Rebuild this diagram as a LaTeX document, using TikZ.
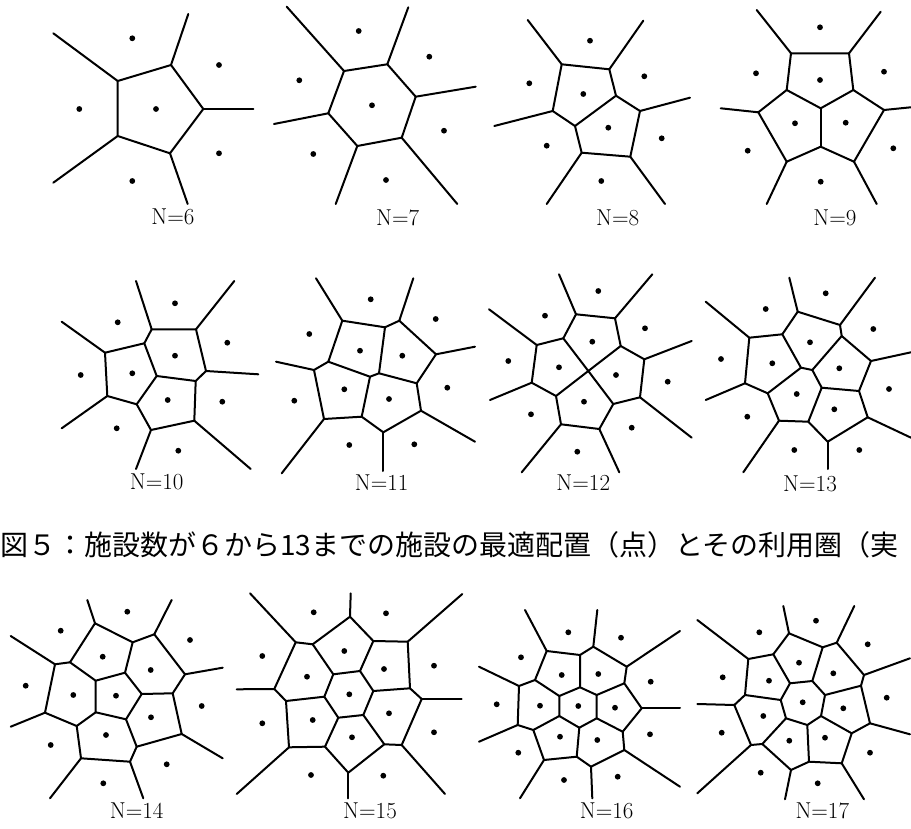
\documentclass[tikz,border=0pt]{standalone}
\usepackage{fontspec}
\newfontfamily\cjk{Noto Sans CJK JP}
\tikzset{
  vline/.style={line width=2pt, line join=round, line cap=round},
  lab/.style={font=\fontsize{23}{23}\selectfont, inner sep=0pt},
}
\newcommand{\pts}[1]{\foreach \n/\x/\y in {#1}{\coordinate (\n) at (\x,\y);}}
\newcommand{\sites}[1]{\foreach \x/\y in {#1}{\fill (\x,\y) circle (2.9);}}
\newcommand{\rays}[1]{\foreach \n/\x/\y in {#1}{\draw[vline] (\n) -- (\x,\y);}}
\begin{document}
\begin{tikzpicture}[x=1pt,y=-1pt]
\useasboundingbox (0,0) rectangle (911,829);
% ---------- N=6
\pts{A/117.7/81, B/171/65, C/203.3/109, D/170/153.3, E/117.7/136}
\draw[vline] (A)--(B)--(C)--(D)--(E)--cycle;
\rays{A/53.3/33.3, B/188.3/14, C/253.3/109, D/187.7/204, E/53.3/182.7}
\sites{132.3/38.3, 219/65, 79.3/109, 156/109, 219/153.3, 132.3/181}
\node[lab] (l6) at (173,217) {N=6};
% ---------- N=7
\pts{A/344/71, B/387.3/64.3, C/415.7/96.7, D/401.7/137.7, E/357.3/146, F/328.3/113.3}
\draw[vline] (A)--(B)--(C)--(D)--(E)--(F)--cycle;
\rays{A/286.7/6.7, B/408.3/7.3, C/475.7/86.7, D/457.3/204, E/335.7/204, F/274/124}
\sites{358.7/31, 429.3/56.7, 299.3/80.3, 372/105.3, 444/130.7, 313.3/154, 386/180}
\node[lab] (l7) at (397.7,218) {N=7};
% ---------- N=8
\pts{P1/561.7/64.3, P2/609.3/69.3, P3/616/95.7, P4/640/111, P5/630.3/156.7, P6/581.7/152.7, P7/575/126, P8/552.7/111}
\draw[vline] (P1)--(P2)--(P3)--(P7)--(P8)--cycle;
\draw[vline] (P3)--(P4)--(P5)--(P6)--(P7);
\rays{P1/527.7/20, P2/643.3/20.7, P4/690/97.7, P5/665/204, P6/546.7/204, P8/494.3/126}
\sites{590/40.7, 644.3/76.3, 529.3/83.3, 583.3/94, 608.3/127.7, 661.7/138.3, 546.7/145.7, 601.3/181}
\node[lab] (l8) at (617.7,218) {N=8};
% ---------- N=9
\pts{Q1/791/53.3, Q2/849/53.3, Q3/853.3/90, Q4/820.7/108.3, Q5/786.7/90, Q6/758.3/112.3, Q7/786.7/161.7, Q8/820.7/146.7, Q9/854/161.7, Q10/884/110}
\draw[vline] (Q1)--(Q2)--(Q3)--(Q4)--(Q5)--cycle;
\draw[vline] (Q5)--(Q6)--(Q7)--(Q8)--(Q9)--(Q10)--(Q3);
\draw[vline] (Q4)--(Q8);
\rays{Q1/756.7/10, Q2/880.7/11.7, Q10/910.7/107.3, Q9/876.7/204, Q7/766.7/204, Q6/720.7/108.3}
\sites{820/27.3, 884/71.7, 756/73.3, 820/80, 795/123.3, 845.7/122.7, 747.7/150.7, 893.3/148.3, 820.7/181.7}
\node[lab] (l9) at (835,218) {N=9};
% ---------- N=10
\pts{R1/151.7/329.3, R2/196/329.3, R3/206/371, R4/195.7/381, R5/156.7/376, R6/144.3/343.3, R7/105/352.7, R8/107.3/396, R9/136.7/404.3, R10/151/430, R11/194.3/420.7}
\draw[vline] (R1)--(R2)--(R3)--(R4)--(R5)--(R6)--cycle;
\draw[vline] (R6)--(R7)--(R8)--(R9)--(R5);
\draw[vline] (R4)--(R11)--(R10)--(R9);
\rays{R1/136/281, R2/234.3/281, R3/258.3/374.3, R11/250.7/469, R10/136/469, R8/61.7/428.3, R7/61.7/321.7}
\sites{175/303.3, 117.7/322.3, 227.3/342.7, 175/355.7, 132.3/373.3, 80.7/375, 167.7/400, 222.3/401.7, 116.7/428.3, 178.3/450.7}
\node[lab] (l10) at (156.7,482) {N=10};
% ---------- N=11
\pts{S1/342.3/320.7, S2/385/327.3, S3/399.3/320.7, S4/436/354.3, S5/416.7/383.3, S6/379/373.3, S7/370/376.7, S8/328.3/361.7, S9/314/370, S10/324/419, S11/361.7/416.7, S12/383.3/432.3, S13/421/410.7}
\draw[vline] (S1)--(S2)--(S6)--(S7)--(S8)--cycle;
\draw[vline] (S2)--(S3)--(S4)--(S5)--(S6);
\draw[vline] (S8)--(S9)--(S10)--(S11)--(S7);
\draw[vline] (S5)--(S13)--(S12)--(S11);
\rays{S1/316/278.3, S3/413.3/278.3, S4/475/346.7, S13/475/441.7, S12/383.3/471, S10/281.7/473.3, S9/276/361.7}
\sites{370.7/299.3, 435.7/319, 309.3/334, 360/350.7, 402.3/355.7, 344.3/389.3, 447.3/387.7, 294.3/400.7, 389/399, 349.3/445, 414.3/444.3}
\node[lab] (l11) at (381.7,483) {N=11};
% ---------- N=12
\pts{T1/576/314.3, T2/615/318.3, T3/620.7/346, T4/644.3/359.3, T5/640/397.3, T6/613.3/404, T7/599.3/429, T8/561/424.3, T9/556/396, T10/531.7/382.7, T11/536.7/345, T12/563.3/338.3, TC/588.3/371}
\draw[vline] (T1)--(T2)--(T3)--(TC)--(T12)--cycle;
\draw[vline] (T12)--(T11)--(T10)--(T9)--(TC);
\draw[vline] (T3)--(T4)--(T5)--(T6)--(TC);
\draw[vline] (T6)--(T7)--(T8)--(T9);
\rays{T1/559/274.3, T2/652.3/274.3, T4/691.7/341, T5/691.7/437.7, T7/619.3/472.3, T8/521.7/472.3, T10/490/400, T11/489/309.3}
\sites{598.3/291, 545/315.7, 645/328.3, 592.3/341.7, 508.3/361, 559/367.3, 616/375, 667.7/381.7, 584/401.7, 531/414.3, 631.7/427.7, 577.3/451.7}
\node[lab] (l12) at (583.3,483) {N=12};
% ---------- N=13
\pts{U1/797.7/311.7, U2/840/325, U3/841.7/336, U4/871/361, U5/859/391, U6/821.7/387.7, U7/812.3/370, U8/801/367.7, U9/782.3/334.3, U10/749.3/337.7, U11/745/383.3, U12/767.7/393.3, U13/779/420.7, U14/808.3/421.7, U15/827.7/441.7, U16/867.7/417.3}
\draw[vline] (U1)--(U2)--(U3)--(U7)--(U8)--(U9)--cycle;
\draw[vline] (U9)--(U10)--(U11)--(U12)--(U8);
\draw[vline] (U3)--(U4)--(U5)--(U6)--(U7);
\draw[vline] (U12)--(U13)--(U14)--(U6);
\draw[vline] (U5)--(U16)--(U15)--(U14);
\rays{U1/789.3/277.7, U2/875/277.7, U4/911/352.3, U16/911/437.7, U15/827.7/469, U13/743.3/472.3, U11/705.7/400, U10/705.7/301.7}
\sites{825.7/293.3, 765.7/309, 873.3/329, 810/342.3, 721/359, 772.3/363.3, 839.3/368.3, 889/389, 796.7/394, 834.3/409.3, 747.3/416.7, 794.3/450, 859.3/450}
\node[lab] (l13) at (810,484) {N=13};
% ---------- caption
\node[anchor=west, inner sep=0pt, font=\cjk\fontsize{28}{28}\selectfont] (cap) at (0,545) {図５：施設数が６から13までの施設の最適配置（点）とその利用圏（実};
% ---------- N=14
\pts{V1/95/623.3, V2/132.7/642.3, V3/154.3/634.3, V4/185/674.3, V5/172.7/693.3, V6/141.7/694, V7/125/672.7, V8/95.7/680.7, V9/70/662.3, V10/55/664.3, V11/45/712.7, V12/76.7/726, V13/95.7/712.3, V14/126/719.3, V15/136.7/746.7, V16/181.7/734, V17/130/761.7, V18/81/758.3}
\draw[vline] (V1)--(V2)--(V7)--(V8)--(V9)--cycle;
\draw[vline] (V2)--(V3)--(V4)--(V5)--(V6)--(V7);
\draw[vline] (V9)--(V10)--(V11)--(V12)--(V13)--(V8);
\draw[vline] (V6)--(V14)--(V13);
\draw[vline] (V5)--(V16)--(V15)--(V14);
\draw[vline] (V12)--(V18)--(V17)--(V15);
\rays{V1/87.3/600, V3/171.7/600, V4/222.7/667.7, V16/222.7/758.3, V17/143.3/798.3, V18/50/798.3, V11/10.7/726.7, V10/10.7/636}
\sites{127.3/611.7, 60.7/630.7, 190/640, 102.7/656.7, 150.7/670, 25.7/685.7, 73.3/695, 116/695.7, 201.7/706, 151/717.3, 106/735, 50.7/745, 166.7/764.3, 103.3/783.3}
\node[lab] (l14) at (136.7,811) {N=14};
% ---------- N=15
\pts{W1/350/616.7, W2/373.3/641, W3/407.7/641.7, W4/410/688.3, W5/421.7/699, W6/401.7/745, W7/384.3/744.3, W8/363.3/715, W9/338.3/717.7, W10/325/746.7, W11/289/747.3, W12/286/701, W13/274.3/689, W14/295.7/642.3, W15/312.7/644.3, W16/333.3/674.3, W17/360/671, W18/373.3/691, W19/324.3/696.7, W20/348.3/772.7}
\draw[vline] (W13)--(W14)--(W15)--(W1)--(W2)--(W3)--(W4)--(W5)--(W6)--(W7)--(W20)--(W10)--(W11)--(W12)--cycle;
\draw[vline] (W16)--(W17)--(W18)--(W8)--(W9)--(W19)--cycle;
\draw[vline] (W15)--(W16) (W2)--(W17) (W4)--(W18) (W7)--(W8) (W10)--(W9) (W12)--(W19);
\rays{W1/350.7/593.3, W3/462.3/594, W5/461.7/699, W6/445/794, W20/348.3/798.3, W11/236.7/794, W13/236.7/689.3, W14/250/593.3}
\sites{313.7/612.3, 386/613.3, 262.3/656, 344.3/651, 434/665.7, 384/669, 307/676.7, 349.3/694.3, 389/713.3, 312.7/720, 262.3/723.3, 434/732.3, 352/737.3, 311/775, 383.3/775.7}
\node[lab] (l15) at (370,811) {N=15};
% ---------- N=16
\pts{X1/546.7/651, X2/580/655, X3/593.3/646.7, X4/626.7/666.7, X5/624.3/683.3, X6/641.7/708.3, X7/622.7/731.7, X8/624.3/750, X9/591/766.7, X10/576.7/756.7, X11/544/760, X12/533.3/730, X13/517.7/725, X14/519/686, X15/535/680, X16/559.3/696, X17/580/687.3, X18/596.7/695, X19/596.7/718.3, X20/579.3/727.7, X21/559.3/716}
\draw[vline] (X1)--(X2)--(X3)--(X4)--(X5)--(X6)--(X7)--(X8)--(X9)--(X10)--(X11)--(X12)--(X13)--(X14)--(X15)--cycle;
\draw[vline] (X16)--(X17)--(X18)--(X19)--(X20)--(X21)--cycle;
\draw[vline] (X2)--(X17) (X5)--(X18) (X7)--(X19) (X10)--(X20) (X12)--(X21) (X15)--(X16);
\rays{X1/525/610, X3/597.3/610, X4/680/631, X6/680/708.3, X8/680/786.7, X9/592.3/798.3, X11/520/798.3, X13/479/741.7, X14/479/666.7}
\sites{568.3/632.3, 621/637.7, 521/657.3, 561.7/675, 598.3/674, 650.7/681.7, 496.7/704.3, 540/705.7, 578.3/706, 615/707.7, 650/734.3, 560/736.7, 597.3/740, 518.3/752.7, 564/780, 617.7/776.7}
\node[lab] (l16) at (606.7,811) {N=16};
% ---------- N=17
\pts{Y1/789/633.3, Y2/822.7/647.3, Y3/836.7/642.7, Y4/864/675, Y5/861/685.7, Y6/870/723.3, Y7/851.7/733.3, Y8/841.7/763.3, Y9/809/761.7, Y10/791/770, Y11/762.3/744, Y12/751/745, Y13/734.3/705, Y14/745/695, Y15/748.3/659, Y16/773.3/654.3, Y17/790/683.3, Y18/812.3/681, Y19/825/695, Y20/821/716, Y21/807.3/725, Y22/786/718.3, Y23/780.7/700}
\draw[vline] (Y1)--(Y2)--(Y3)--(Y4)--(Y5)--(Y6)--(Y7)--(Y8)--(Y9)--(Y10)--(Y11)--(Y12)--(Y13)--(Y14)--(Y15)--(Y16)--cycle;
\draw[vline] (Y17)--(Y18)--(Y19)--(Y20)--(Y21)--(Y22)--(Y23)--cycle;
\draw[vline] (Y2)--(Y18) (Y5)--(Y19) (Y7)--(Y20) (Y9)--(Y21) (Y11)--(Y22) (Y14)--(Y23) (Y16)--(Y17);
\rays{Y1/783.3/606, Y3/854.3/606, Y4/910/658.3, Y6/910/734.3, Y8/864/799.3, Y10/785/799.3, Y12/697.3/793.3, Y13/697.3/704, Y15/697.3/620}
\sites{816/620.7, 759.3/632.3, 867.7/644.3, 799/662.7, 833.3/673.3, 722.7/677.3, 769/680.7, 886.7/697.7, 802.7/702.3, 843.3/708.3, 763.3/716, 721.7/732.7, 825/737.7, 789.3/740.7, 870/752.7, 760.7/772.7, 817.7/783.3}
\node[lab] (l17) at (822.3,811) {N=17};
\end{tikzpicture}
\end{document}
